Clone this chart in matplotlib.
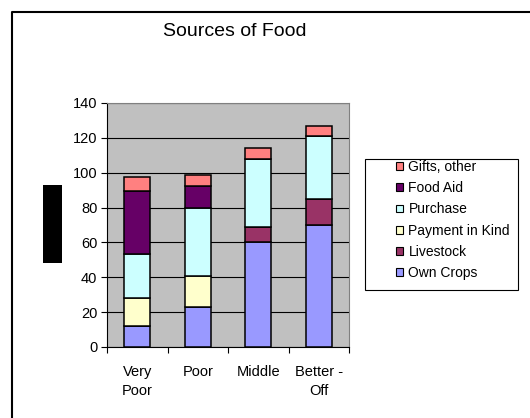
import matplotlib.pyplot as plt
from matplotlib.patches import Rectangle
from matplotlib.lines import Line2D

plt.rcParams['font.family'] = ['Liberation Sans', 'DejaVu Sans']

groups = ['Very\nPoor', 'Poor', 'Middle', 'Better -\nOff']
own_crops = [12, 23, 60, 70]
livestock = [0, 0, 9, 15]
payment_in_kind = [16, 18, 0, 0]
purchase = [25.5, 39, 39, 36]
food_aid = [36, 12.5, 0, 0]
gifts_other = [8, 6, 6, 6]

series = [
  ('Own Crops', own_crops, '#9999FF'),
  ('Livestock', livestock, '#993366'),
  ('Payment in Kind', payment_in_kind, '#FFFFCC'),
  ('Purchase', purchase, '#CCFFFF'),
  ('Food Aid', food_aid, '#660066'),
  ('Gifts, other', gifts_other, '#FF8080'),
]

fig = plt.figure(figsize=(5.3, 4.18), dpi=100)
ax = fig.add_axes([107 / 530, 1 - 347 / 418, 242 / 530, 244 / 418])
ax.set_facecolor('#C0C0C0')

x = range(len(groups))
bottom = [0] * len(groups)
handles = []
for name, vals, color in series:
  ax.bar(x, vals, width=0.43, bottom=bottom, color=color, edgecolor='black', linewidth=1.1, zorder=3)
  bottom = [b + v for b, v in zip(bottom, vals)]
  handles.append(Rectangle((0, 0), 1, 1, facecolor=color, edgecolor='black', linewidth=0.8, label=name))

ax.set_xlim(-0.5, len(groups) - 0.5)
ax.set_ylim(0, 140)
ax.set_yticks(range(0, 141, 20))
ax.yaxis.grid(True, color='black', linewidth=0.8, zorder=0)
ax.set_axisbelow(True)

ax.set_xticks([i + 0.5 for i in range(-1, len(groups))], minor=False)
ax.set_xticklabels([])
ax.set_xticks(list(x), minor=True)
ax.set_xticklabels(groups, minor=True, fontsize=10.5, linespacing=1.45)
ax.tick_params(axis='x', which='minor', length=0, pad=13)
ax.tick_params(axis='x', which='major', length=4, width=0.8, direction='out')
ax.tick_params(axis='y', length=4, width=0.8, direction='out', labelsize=10.5, pad=3)

for side in ('top', 'right'):
  ax.spines[side].set_color('#808080')
for side in ('left', 'bottom'):
  ax.spines[side].set_color('black')

# legend frame drawn separately so its size matches the original box
fig.patches.append(Rectangle((365 / 530, 1 - 290 / 418), 153 / 530, 131 / 418,
                             facecolor='white', edgecolor='black', linewidth=0.8,
                             transform=fig.transFigure, figure=fig))
leg = fig.legend(handles=handles[::-1], loc='upper left', bbox_to_anchor=(396 / 530, 1 - 160 / 418),
                 fontsize=10, frameon=False,
                 handlelength=0.5, handleheight=0.5, handletextpad=0.4, labelspacing=0.52,
                 borderpad=0, borderaxespad=0)

fig.text(235 / 530, 1 - 32 / 418, 'Sources of Food', ha='center', va='center', fontsize=14)

# redacted axis title box
fig.patches.append(Rectangle((43 / 530, 1 - 263 / 418), 19 / 530, 78 / 418,
                             facecolor='black', transform=fig.transFigure, figure=fig))

# outer chart frame
fig.lines.append(Line2D([12 / 530, 12 / 530, 1.0], [0.0, 1 - 12 / 418, 1 - 12 / 418],
                        color='black', linewidth=1.5, transform=fig.transFigure))

fig.savefig('out.png', dpi=100)
